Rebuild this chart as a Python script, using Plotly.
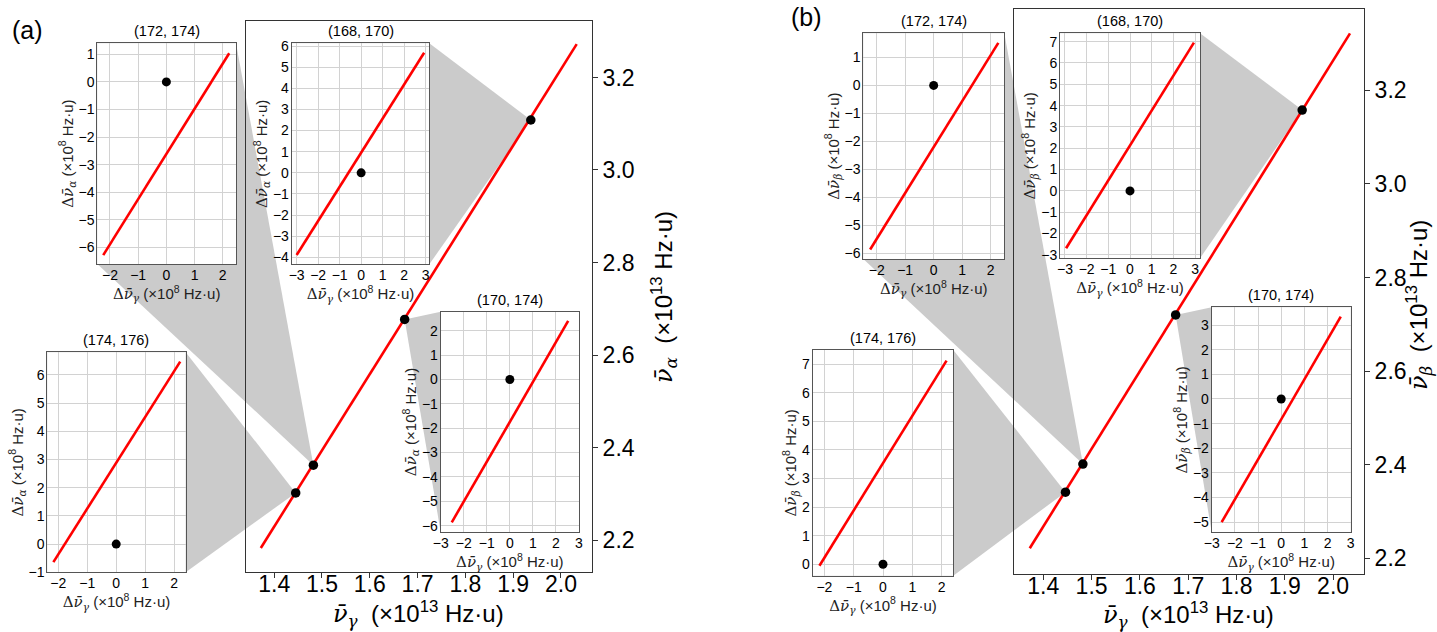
import plotly.graph_objects as go

W, H = 1437, 632

# ---------------- data ----------------
pairs = ["(174, 176)", "(172, 174)", "(170, 174)", "(168, 170)"]

# panel (a): main plot
a_nu_gamma = [1.445, 1.482, 1.673, 1.937]
a_nu_alpha = [2.302, 2.362, 2.677, 3.108]
a_fit_x = [1.372, 2.033]
a_fit_y = [2.183, 3.272]

# panel (b): main plot
b_nu_gamma = [1.446, 1.482, 1.674, 1.936]
b_nu_beta = [2.341, 2.401, 2.720, 3.158]
b_fit_x = [1.372, 2.035]
b_fit_y = [2.221, 3.322]

main_tick_x = [1.4, 1.5, 1.6, 1.7, 1.8, 1.9, 2.0]
main_tick_y = [2.2, 2.4, 2.6, 2.8, 3.0, 3.2]

# insets (order follows `pairs`), residual views around each point
inset_point_x = [0]
inset_point_y = [0]
a_inset_fit_x = [[-2.17, 2.21], [-2.24, 2.23], [-2.52, 2.53], [-3.0, 2.93]]
a_inset_fit_y = [[-0.64, 6.47], [-6.28, 1.04], [-5.86, 2.40], [-3.89, 5.68]]
b_inset_fit_x = [[-2.17, 2.17], [-2.23, 2.27], [-2.57, 2.57], [-2.95, 2.95]]
b_inset_fit_y = [[-0.05, 7.13], [-5.86, 1.52], [-5.0, 3.34], [-2.69, 6.95]]

# ---------------- layout geometry (pixels: left, right, top, bottom) ----------------
a_main_box = (246, 592, 21, 572)
a_main_xr, a_main_yr = [1.341, 2.065], [2.131, 3.322]
b_main_box = (1014.3, 1364, 9, 574)
b_main_xr, b_main_yr = [1.340, 2.064], [2.166, 3.374]

a_inset_boxes = [(47.3, 185.7, 352.3, 572.3), (97.3, 236, 43.3, 264),
                 (440.7, 579, 311.7, 532.3), (291.7, 429.3, 43.3, 264.3)]
a_inset_xr = [[-2.38, 2.40], [-2.45, 2.47], [-3, 3], [-3.23, 3.17]]
a_inset_yr = [[-1.0, 6.8], [-6.6, 1.4], [-6.27, 2.78], [-4.33, 6.13]]

b_inset_boxes = [(812.7, 953.3, 350, 575.7), (863.3, 1004.3, 33.3, 259),
                 (1211.7, 1350.7, 307.3, 532.3), (1060, 1200, 33.3, 258.3)]
b_inset_xr = [[-2.4, 2.4], [-2.47, 2.48], [-3, 3], [-3.23, 3.23]]
b_inset_yr = [[-0.4, 7.5], [-6.2, 1.86], [-5.41, 3.72], [-3.16, 7.39]]

FONT = "Liberation Sans, Arial, sans-serif"
SERIF = "DejaVu Serif, Liberation Serif, serif"
GRAY = "#cbcbcb"


def nu(sub):
    return (f'<span style="font-family:{SERIF}"><i>\u03bd\u0304</i></span>'
            f'<sub><span style="font-family:{SERIF}"><i>{sub}</i></span></sub>')


def dnu(sub):
    return f'<span style="font-family:{SERIF}">\u0394</span>' + nu(sub)


def dom(box):
    x0, x1, y0, y1 = box
    return [x0 / W, x1 / W], [1 - y1 / H, 1 - y0 / H]


fig = go.Figure()
lay = {}
shapes_gray = []
shapes_white = []
annotations = []
count = [0]


def new_axes(box, xr, yr, xcfg, ycfg):
    count[0] += 1
    i = count[0]
    xd, yd = dom(box)
    xk = "xaxis" if i == 1 else f"xaxis{i}"
    yk = "yaxis" if i == 1 else f"yaxis{i}"
    xid = "x" if i == 1 else f"x{i}"
    yid = "y" if i == 1 else f"y{i}"
    lay[xk] = dict(domain=xd, range=xr, anchor=yid, zeroline=False, automargin=False, **xcfg)
    lay[yk] = dict(domain=yd, range=yr, anchor=xid, zeroline=False, automargin=False, **ycfg)
    return xid, yid, xd, yd


def data_to_paper(x, y, xr, yr, xd, yd):
    px = xd[0] + (x - xr[0]) / (xr[1] - xr[0]) * (xd[1] - xd[0])
    py = yd[0] + (y - yr[0]) / (yr[1] - yr[0]) * (yd[1] - yd[0])
    return px, py


def hull(pts):
    pts = sorted(set(pts))
    def cross(o, a, b):
        return (a[0] - o[0]) * (b[1] - o[1]) - (a[1] - o[1]) * (b[0] - o[0])
    lower, upper = [], []
    for p in pts:
        while len(lower) >= 2 and cross(lower[-2], lower[-1], p) <= 0:
            lower.pop()
        lower.append(p)
    for p in reversed(pts):
        while len(upper) >= 2 and cross(upper[-2], upper[-1], p) <= 0:
            upper.pop()
        upper.append(p)
    return lower[:-1] + upper[:-1]


def panel(main_box, mxr, myr, gx, gy, fx, fy, ysub, boxes, ixr, iyr, ifx, ify,
          label, label_xy, ytitle_xy, xtitle_xy):
    main_x = dict(showline=True, mirror=True, linecolor="#333", linewidth=1,
                  ticks="outside", ticklen=5, tickcolor="#333", ticklabelstandoff=-14,
                  tickvals=main_tick_x, ticktext=[f"{v:.1f}" for v in main_tick_x],
                  tickfont=dict(size=23, color="black", family=FONT), showgrid=False)
    main_y = dict(side="right", showline=True, mirror=True, linecolor="#333", linewidth=1,
                  ticks="outside", ticklen=5, tickcolor="#333",
                  tickvals=main_tick_y, ticktext=[f"{v:.1f}" for v in main_tick_y],
                  tickfont=dict(size=23, color="black", family=FONT), showgrid=False)
    mx, my, mxd, myd = new_axes(main_box, mxr, myr, main_x, main_y)
    fig.add_trace(go.Scatter(x=fx, y=fy, mode="lines", line=dict(color="#ff0000", width=2.6),
                             xaxis=mx, yaxis=my, showlegend=False, hoverinfo="skip"))
    fig.add_trace(go.Scatter(x=gx, y=gy, mode="markers", marker=dict(color="black", size=9.5),
                             xaxis=mx, yaxis=my, showlegend=False, cliponaxis=False))

    for k in range(4):
        xt = dnu("\u03b3") + " (×10<sup>8</sup> Hz·u)"
        yt = dnu(ysub) + " (×10<sup>8</sup> Hz·u)"
        common = dict(showline=True, mirror=True, linecolor="#555", linewidth=1,
                      showgrid=True, gridcolor="#d2d2d2", gridwidth=1, dtick=1, tick0=0,
                      ticks="", ticklen=0,
                      tickfont=dict(size=14, color="black", family=FONT))
        icx = dict(common, ticklabelstandoff=-2,
                   title=dict(text=xt, font=dict(size=15, color="#222", family=FONT), standoff=1))
        icy = dict(common, ticklabelstandoff=-1,
                   title=dict(text=yt, font=dict(size=15, color="#222", family=FONT), standoff=1))
        ix, iy, ixd, iyd = new_axes(boxes[k], ixr[k], iyr[k], icx, icy)
        fig.add_trace(go.Scatter(x=ifx[k], y=ify[k], mode="lines",
                                 line=dict(color="#ff0000", width=2.6),
                                 xaxis=ix, yaxis=iy, showlegend=False, hoverinfo="skip"))
        fig.add_trace(go.Scatter(x=inset_point_x, y=inset_point_y, mode="markers",
                                 marker=dict(color="black", size=9),
                                 xaxis=ix, yaxis=iy, showlegend=False))
        # inset title
        annotations.append(dict(text=pairs[k], x=(ixd[0] + ixd[1]) / 2, y=iyd[1] + 2 / H,
                                xref="paper", yref="paper", xanchor="center", yanchor="bottom",
                                showarrow=False, font=dict(size=14.5, color="black", family=FONT)))
        # connector: hull of inset box and the corresponding point
        P = data_to_paper(gx[k], gy[k], mxr, myr, mxd, myd)
        corners = [(ixd[0], iyd[0]), (ixd[1], iyd[0]), (ixd[1], iyd[1]), (ixd[0], iyd[1])]
        hp = hull(corners + [P])
        path = "M " + " L ".join(f"{p[0]:.5f},{p[1]:.5f}" for p in hp) + " Z"
        shapes_gray.append(dict(type="path", path=path, xref="paper", yref="paper",
                                fillcolor=GRAY, line=dict(width=0), layer="below"))
        shapes_white.append(dict(type="rect", x0=ixd[0], x1=ixd[1], y0=iyd[0], y1=iyd[1],
                                 xref="paper", yref="paper", fillcolor="white",
                                 line=dict(width=0), layer="below"))

    annotations.append(dict(text=label, x=label_xy[0] / W, y=1 - label_xy[1] / H,
                            xref="paper", yref="paper", xanchor="center", yanchor="middle",
                            showarrow=False, font=dict(size=25, color="black", family=FONT)))
    annotations.append(dict(text=nu(ysub) + "&nbsp;&nbsp;(×10<sup>13</sup> Hz·u)",
                            x=ytitle_xy[0] / W, y=1 - ytitle_xy[1] / H, textangle=-90,
                            xref="paper", yref="paper", xanchor="center", yanchor="middle",
                            showarrow=False, font=dict(size=24, color="black", family=FONT)))
    annotations.append(dict(text=nu("\u03b3") + "&nbsp;&nbsp;(×10<sup>13</sup> Hz·u)",
                            x=xtitle_xy[0] / W, y=1 - xtitle_xy[1] / H,
                            xref="paper", yref="paper", xanchor="center", yanchor="middle",
                            showarrow=False, font=dict(size=24, color="black", family=FONT)))


panel(a_main_box, a_main_xr, a_main_yr, a_nu_gamma, a_nu_alpha, a_fit_x, a_fit_y, "\u03b1",
      a_inset_boxes, a_inset_xr, a_inset_yr, a_inset_fit_x, a_inset_fit_y,
      "(a)", (27, 30), (664, 297), (418, 614))
panel(b_main_box, b_main_xr, b_main_yr, b_nu_gamma, b_nu_beta, b_fit_x, b_fit_y, "\u03b2",
      b_inset_boxes, b_inset_xr, b_inset_yr, b_inset_fit_x, b_inset_fit_y,
      "(b)", (807, 17), (1419, 305), (1188, 615))

fig.update_layout(
    width=W, height=H, autosize=False,
    margin=dict(l=0, r=0, t=0, b=0),
    paper_bgcolor="white", plot_bgcolor="rgba(0,0,0,0)",
    font=dict(family=FONT, color="black"),
    showlegend=False,
    shapes=shapes_gray + shapes_white,
    annotations=annotations,
    **lay,
)

fig.write_html("out.html",
               config={"displayModeBar": False},
               post_script="document.body.style.margin='0';document.body.style.overflow='hidden';")
